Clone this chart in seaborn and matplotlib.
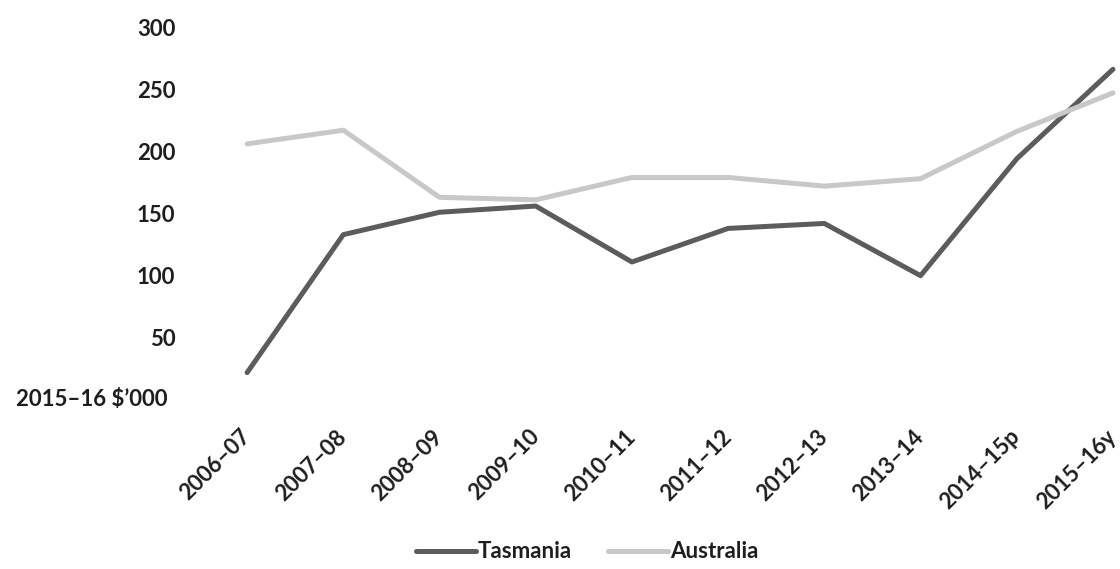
import matplotlib
matplotlib.use("Agg")
import matplotlib.pyplot as plt
import seaborn as sns
import pandas as pd

# Gross value per farm, 2015-16 dollars ('000)
years = ["2006–07", "2007–08", "2008–09", "2009–10", "2010–11",
         "2011–12", "2012–13", "2013–14", "2014–15p", "2015–16y"]
tasmania = [22, 133, 151, 156, 111, 138, 142, 100, 194, 266]
australia = [206, 217, 163, 161, 179, 179, 172, 178, 216, 247]
series_names = ["Tasmania", "Australia"]
series_colors = ["#5c5c5c", "#c8c8c8"]
y_ticks = [50, 100, 150, 200, 250, 300]
unit_label = "2015–16 $’000"

sns.set_theme(style="white")
plt.rcParams["font.family"] = ["Lato", "DejaVu Sans"]
plt.rcParams["font.weight"] = "bold"
text_color = "#1e1e1e"

df = pd.DataFrame({
    "idx": list(range(len(years))) * 2,
    "value": tasmania + australia,
    "region": [series_names[0]] * len(years) + [series_names[1]] * len(years),
})

fig = plt.figure(figsize=(11.2, 5.69), dpi=100)
ax = fig.add_axes([199 / 1120, 1 - 400 / 569, 921 / 1120, 373 / 569])

sns.lineplot(data=df, x="idx", y="value", hue="region",
             palette=dict(zip(series_names, series_colors)),
             linewidth=3.6, ax=ax, legend=True)

ax.set_xlim(-0.5, 9.073)
ax.set_ylim(0, 300)
for s in ax.spines.values():
    s.set_visible(False)
ax.grid(False)

ax.set_xticks(range(len(years)))
ax.set_xticklabels(years, rotation=45, ha="right", va="center",
                   rotation_mode="anchor", fontsize=16, fontweight="bold",
                   color=text_color)
ax.tick_params(axis="x", length=0, pad=24)

ax.set_yticks(y_ticks)
ax.set_yticklabels([str(v) for v in y_ticks], fontsize=16,
                   fontweight="bold", color=text_color)
ax.tick_params(axis="y", length=0, pad=17)

ax.set_xlabel("")
ax.set_ylabel("")

# unit label sits where the zero tick would be
ax.text(-31 / 921, 0, unit_label, transform=ax.get_yaxis_transform(),
        ha="right", va="center", fontsize=16, fontweight="bold",
        color=text_color)

handles, labels = ax.get_legend_handles_labels()
ax.get_legend().remove()
leg = fig.legend(handles, labels, loc="center", bbox_to_anchor=(0.524, 0.03),
                 ncol=2, frameon=False, handlelength=2.7, handletextpad=0.1,
                 columnspacing=1.6, prop={"size": 16, "weight": "bold"})
for t in leg.get_texts():
    t.set_color(text_color)

fig.savefig("out.png", dpi=100)
